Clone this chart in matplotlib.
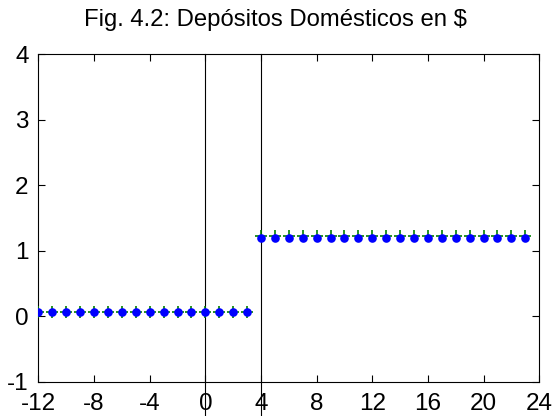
import numpy as np
import matplotlib
matplotlib.use("Agg")
import matplotlib.pyplot as plt

plt.rcParams['font.family'] = ['Liberation Sans', 'DejaVu Sans']
plt.rcParams['axes.unicode_minus'] = False

# Domestic deposits: before and after the shift
x_before = list(range(-12, 4))
y_before = [0.07] * 16
x_after = list(range(4, 24))
y_after = [1.2] * 20
y_after_plus = [1.22] * 20

x_ticks = [-12, -8, -4, 0, 4, 8, 12, 16, 20, 24]
y_ticks = [-1, 0, 1, 2, 3, 4]
marks_at = [0, 4]

fig = plt.figure(figsize=(5.57, 4.16), dpi=100)
ax = fig.add_axes([0.069, 0.082, 0.899, 0.788])

ax.plot(x_before, y_before, linestyle='none', marker='+', color='#008000',
        markersize=9, markeredgewidth=1.2, zorder=3)
ax.plot(x_after, y_after_plus, linestyle='none', marker='+', color='#008000',
        markersize=9, markeredgewidth=1.2, zorder=3)
ax.plot(x_before, y_before, linestyle='none', marker='o', color='#0000ff',
        markersize=6.2, markeredgewidth=0, zorder=4)
ax.plot(x_after, y_after, linestyle='none', marker='o', color='#0000ff',
        markersize=6.2, markeredgewidth=0, zorder=4)

for xv in marks_at:
    ax.plot([xv, xv], [-1.6, 4], color='black', linewidth=0.8,
            clip_on=False, zorder=2)

ax.set_xlim(-12, 24)
ax.set_ylim(-1, 4)
ax.set_xticks(x_ticks)
ax.set_yticks(y_ticks)
ax.tick_params(direction='in', top=True, right=True, length=5, width=0.8,
               labelsize=17.5)
ax.tick_params(axis='x', pad=8)
ax.tick_params(axis='y', pad=7)
for s in ax.spines.values():
    s.set_linewidth(0.8)

fig.text(0.494, 0.952, 'Fig. 4.2: Depósitos Domésticos en $', ha='center',
         va='center', fontsize=17.2)

fig.savefig('out.png', dpi=100)
